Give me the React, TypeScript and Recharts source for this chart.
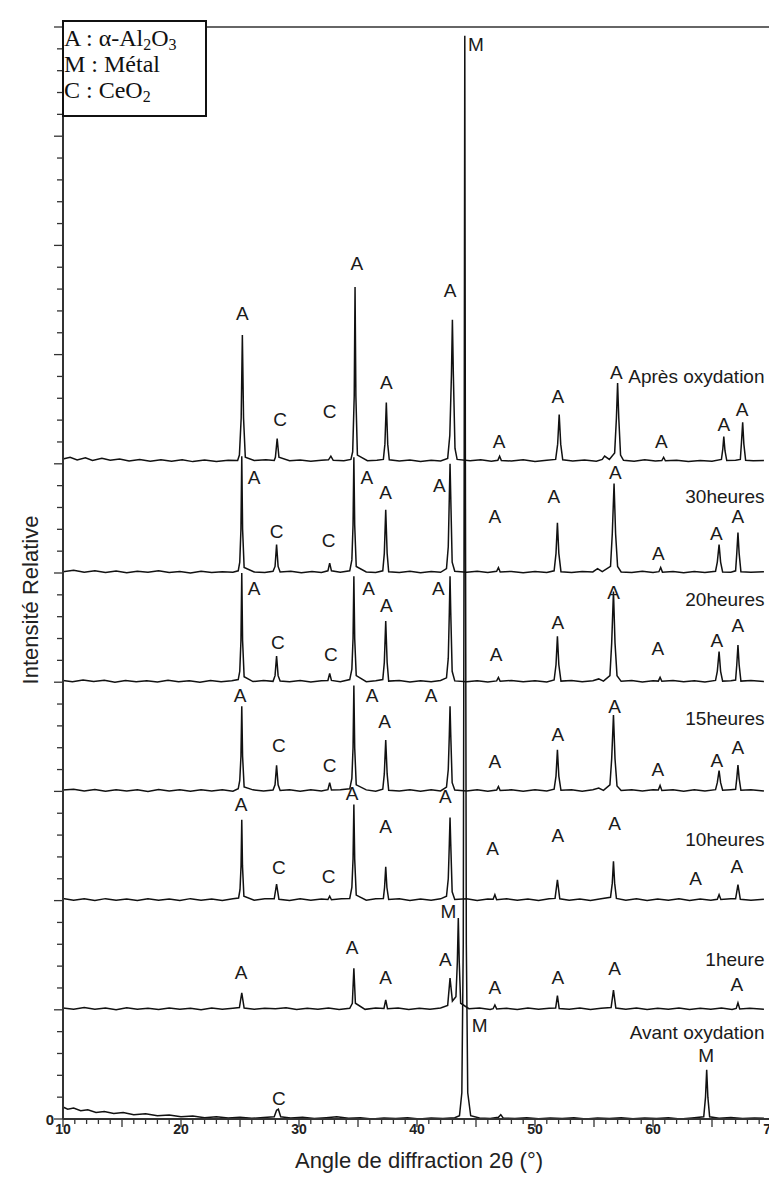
import {
  ComposedChart,
  Line,
  Scatter,
  XAxis,
  YAxis,
  ReferenceLine,
} from "recharts";

type Pt = [number, number];
type Mark = [number, number, string];

// tick labels
const xLabelTicks = [10, 20, 30, 40, 50, 60, 70];
const yLabelTicks = [0];

// trace names, stacking offsets and where each name sits (y in axis units)
const traceNames = [
  "Avant oxydation",
  "1heure",
  "10heures",
  "15heures",
  "20heures",
  "30heures",
  "Après oxydation",
];
const traceOffsets = [0, 5, 10, 15, 20, 25, 30.1];
const traceNameY = [3.94, 7.3, 12.8, 18.35, 23.8, 28.5, 34.0];

// intensities, relative to each trace's own baseline
const avant: Pt[] = [
  [10, 0.55], [10.4, 0.45], [10.9, 0.5], [11.5, 0.38], [12.1, 0.42], [12.8, 0.3],
  [13.5, 0.34], [14.3, 0.25], [15.1, 0.3], [16, 0.2], [17, 0.24], [18, 0.15],
  [19, 0.18], [20, 0.1], [21, 0.14], [22, 0.06], [23, 0.1], [24, 0.05], [25, 0.08],
  [26, 0.03], [27, 0.07], [27.9, 0.1], [28.1, 0.4], [28.25, 0.45], [28.45, 0.1],
  [29.3, 0.05], [30.3, 0.08], [31.3, 0.02], [32.3, 0.06], [33.2, 0.1], [34.2, 0.03],
  [35.2, 0.06], [36.2, 0.0], [37.2, 0.05], [38.2, 0.02], [39.2, 0.06], [40.2, 0.0],
  [41.2, 0.05], [42.2, 0.02], [43.2, 0.06], [43.6, 0.15], [43.8, 1.2], [43.92, 8],
  [44.0, 30], [44.05, 49.6], [44.1, 30], [44.18, 8], [44.3, 1.2], [44.55, 0.15],
  [45.3, 0.05], [46.2, 0.02], [46.9, 0.08], [47.1, 0.2], [47.3, 0.05], [48.3, 0.02],
  [49.3, 0.06], [50.3, 0.01], [51.3, 0.05], [52.3, 0.02], [53.3, 0.06], [54.3, 0.0],
  [55.3, 0.05], [56.3, 0.02], [57.3, 0.06], [58.3, 0.01], [59.3, 0.05], [60.3, 0.02],
  [61.3, 0.06], [62.3, 0.0], [63.3, 0.05], [64.3, 0.1], [64.45, 1.0], [64.55, 2.25],
  [64.65, 1.0], [64.8, 0.1], [65.6, 0.04], [66.6, 0.07], [67.6, 0.02], [68.6, 0.05],
  [69.4, 0.03],
];

const heure1: Pt[] = [
  [10, 0.08], [10.9, 0.02], [11.8, 0.1], [12.7, 0.03], [13.6, 0.08], [14.5, 0.0],
  [15.4, 0.09], [16.3, 0.02], [17.2, 0.07], [18.1, 0.01], [19, 0.08], [19.9, 0.02],
  [20.8, 0.07], [21.7, 0.0], [22.6, 0.08], [23.5, 0.02], [24.4, 0.07], [24.95, 0.1],
  [25.15, 0.78], [25.35, 0.08], [26.2, 0.02], [27.1, 0.07], [28, 0.05], [28.9, 0.09],
  [29.8, 0.01], [30.7, 0.07], [31.6, 0.02], [32.5, 0.08], [33.4, 0.01], [34.3, 0.07],
  [34.52, 0.3], [34.65, 1.9], [34.78, 0.3], [35.6, 0.02], [36.5, 0.08], [37.2, 0.06],
  [37.35, 0.45], [37.5, 0.05], [38.4, 0.08], [39.3, 0.01], [40.2, 0.07], [41.1, 0.02],
  [42, 0.08], [42.6, 0.2], [42.8, 1.45], [43.0, 0.4], [43.3, 0.6], [43.42, 2.2],
  [43.5, 4.2], [43.58, 2.2], [43.7, 0.3], [44.4, 0.05], [45.3, 0.08], [46.2, 0.01],
  [46.45, 0.05], [46.6, 0.22], [46.75, 0.04], [47.6, 0.07], [48.5, 0.01], [49.4, 0.08],
  [50.3, 0.02], [51.2, 0.07], [51.75, 0.08], [51.9, 0.65], [52.05, 0.06], [52.9, 0.02],
  [53.8, 0.08], [54.7, 0.01], [55.6, 0.07], [56.45, 0.1], [56.65, 0.9], [56.85, 0.08],
  [57.7, 0.02], [58.6, 0.08], [59.5, 0.01], [60.4, 0.07], [61.3, 0.02], [62.2, 0.08],
  [63.1, 0.01], [64, 0.07], [64.9, 0.02], [65.8, 0.08], [66.7, 0.01], [67.05, 0.06],
  [67.2, 0.32], [67.35, 0.04], [68.2, 0.07], [69.4, 0.02],
];

const heure10: Pt[] = [
  [10, 0.1], [10.9, 0.02], [11.8, 0.08], [12.7, 0.01], [13.6, 0.09], [14.5, 0.02],
  [15.4, 0.07], [16.3, 0.0], [17.2, 0.08], [18.1, 0.02], [19, 0.07], [19.9, 0.01],
  [20.8, 0.09], [21.7, 0.02], [22.6, 0.07], [23.5, 0.0], [24.4, 0.08], [24.88, 0.12],
  [25.0, 0.5], [25.09, 1.6], [25.15, 3.7], [25.21, 1.6], [25.33, 0.2], [26.2, 0.02],
  [27.1, 0.08], [27.9, 0.08], [28.1, 0.75], [28.3, 0.06], [29.2, 0.01], [30.1, 0.08],
  [31, 0.02], [31.9, 0.07], [32.45, 0.05], [32.6, 0.2], [32.75, 0.04], [33.6, 0.08],
  [34.3, 0.1], [34.48, 0.6], [34.58, 1.9], [34.65, 4.4], [34.72, 1.9], [34.85, 0.25],
  [35.7, 0.02], [36.5, 0.08], [37.15, 0.1], [37.25, 0.6], [37.35, 1.55], [37.45, 0.6],
  [37.6, 0.05], [38.5, 0.08], [39.4, 0.01], [40.3, 0.07], [41.2, 0.02], [42.0, 0.08],
  [42.5, 0.2], [42.65, 1.0], [42.74, 2.6], [42.8, 3.8], [42.86, 2.6], [42.98, 0.4],
  [43.2, 0.05], [44.2, 0.08], [45.1, 0.01], [46.0, 0.07], [46.45, 0.06], [46.6, 0.27],
  [46.75, 0.04], [47.6, 0.08], [48.5, 0.02], [49.4, 0.07], [50.3, 0.0], [51.2, 0.08],
  [51.7, 0.1], [51.9, 0.95], [52.1, 0.08], [52.9, 0.02], [53.8, 0.07], [54.7, 0.01],
  [55.6, 0.08], [56.4, 0.15], [56.55, 0.8], [56.65, 1.8], [56.75, 0.8], [56.9, 0.1],
  [57.7, 0.02], [58.6, 0.08], [59.5, 0.01], [60.4, 0.07], [61.3, 0.02], [62.2, 0.08],
  [63.1, 0.01], [64, 0.07], [64.9, 0.02], [65.45, 0.06], [65.6, 0.27], [65.75, 0.05],
  [66.6, 0.08], [67.0, 0.08], [67.2, 0.73], [67.4, 0.06], [68.3, 0.02], [69.4, 0.06],
];

const heure15: Pt[] = [
  [10, 0.06], [10.9, 0.1], [11.8, 0.02], [12.7, 0.09], [13.6, 0.01], [14.5, 0.08],
  [15.4, 0.02], [16.3, 0.07], [17.2, 0.0], [18.1, 0.09], [19, 0.02], [19.9, 0.08],
  [20.8, 0.01], [21.7, 0.07], [22.6, 0.02], [23.5, 0.08], [24.4, 0.01], [24.85, 0.12],
  [24.98, 0.5], [25.08, 1.6], [25.15, 3.9], [25.22, 1.6], [25.35, 0.2], [26.1, 0.07],
  [27.0, 0.02], [27.8, 0.06], [27.97, 0.3], [28.1, 1.2], [28.23, 0.3], [28.4, 0.04],
  [29.2, 0.08], [30.1, 0.01], [31.0, 0.07], [31.9, 0.02], [32.45, 0.08], [32.6, 0.4],
  [32.75, 0.06], [33.5, 0.08], [34.3, 0.12], [34.48, 0.6], [34.58, 2.0], [34.65, 4.85],
  [34.72, 2.0], [34.85, 0.3], [35.7, 0.07], [36.5, 0.01], [37.1, 0.1], [37.23, 0.8],
  [37.35, 2.35], [37.47, 0.8], [37.6, 0.05], [38.5, 0.02], [39.4, 0.08], [40.3, 0.01],
  [41.2, 0.07], [42.0, 0.02], [42.5, 0.2], [42.65, 1.0], [42.74, 2.6], [42.8, 3.9],
  [42.86, 2.6], [42.98, 0.4], [43.2, 0.06], [44.2, 0.02], [45.1, 0.08], [46.0, 0.01],
  [46.75, 0.06], [46.9, 0.22], [47.05, 0.04], [48.0, 0.07], [49.0, 0.01], [50.0, 0.08],
  [51.0, 0.02], [51.62, 0.1], [51.78, 0.7], [51.9, 1.9], [52.02, 0.7], [52.2, 0.05],
  [53.1, 0.07], [54.0, 0.01], [54.9, 0.08], [55.4, 0.15], [55.8, 0.05], [56.35, 0.3],
  [56.5, 1.5], [56.65, 3.5], [56.78, 1.5], [56.95, 0.25], [57.3, 0.04], [58.2, 0.08],
  [59.1, 0.02], [60.0, 0.07], [60.45, 0.06], [60.6, 0.27], [60.75, 0.04], [61.7, 0.07],
  [62.6, 0.01], [63.5, 0.08], [64.4, 0.02], [65.3, 0.08], [65.45, 0.4], [65.6, 0.95],
  [65.73, 0.4], [65.9, 0.05], [66.6, 0.08], [67.0, 0.1], [67.1, 0.6], [67.2, 1.2],
  [67.3, 0.6], [67.45, 0.05], [68.3, 0.07], [69.4, 0.02],
];

const heure20: Pt[] = [
  [10, 0.08], [10.8, 0.02], [11.7, 0.1], [12.6, 0.03], [13.5, 0.09], [14.4, 0.0],
  [15.3, 0.08], [16.2, 0.02], [17.1, 0.07], [18, 0.01], [18.9, 0.09], [19.8, 0.02],
  [20.7, 0.07], [21.6, 0.0], [22.5, 0.08], [23.4, 0.02], [24.3, 0.07], [24.85, 0.12],
  [24.98, 0.5], [25.08, 1.9], [25.15, 5.0], [25.22, 1.9], [25.35, 0.25], [26.1, 0.03],
  [27, 0.08], [27.8, 0.04], [27.97, 0.3], [28.1, 1.2], [28.23, 0.3], [28.4, 0.05],
  [29.2, 0.02], [30.1, 0.08], [31, 0.01], [31.9, 0.07], [32.45, 0.08], [32.6, 0.4],
  [32.75, 0.08], [33.5, 0.02], [34.3, 0.12], [34.48, 0.6], [34.58, 2.0], [34.65, 4.85],
  [34.72, 2.0], [34.85, 0.3], [35.7, 0.02], [36.5, 0.07], [37.1, 0.12], [37.23, 0.9],
  [37.35, 2.8], [37.47, 0.9], [37.6, 0.05], [38.5, 0.08], [39.4, 0.01], [40.3, 0.07],
  [41.2, 0.02], [42, 0.08], [42.5, 0.2], [42.65, 1.1], [42.74, 3.2], [42.8, 4.85],
  [42.86, 3.2], [42.98, 0.5], [43.2, 0.06], [44.2, 0.02], [45.1, 0.07], [46, 0.01],
  [46.75, 0.06], [46.9, 0.22], [47.05, 0.04], [48, 0.08], [49, 0.02], [50, 0.07],
  [51, 0.01], [51.62, 0.1], [51.78, 0.8], [51.9, 2.1], [52.02, 0.8], [52.2, 0.05],
  [53.1, 0.08], [54, 0.02], [54.9, 0.07], [55.4, 0.15], [55.8, 0.05], [56.35, 0.3],
  [56.5, 1.8], [56.65, 4.15], [56.78, 1.8], [56.95, 0.3], [57.3, 0.04], [58.2, 0.08],
  [59.1, 0.01], [60, 0.07], [60.45, 0.05], [60.6, 0.22], [60.75, 0.04], [61.7, 0.08],
  [62.6, 0.02], [63.5, 0.07], [64.4, 0.01], [65.3, 0.08], [65.45, 0.5], [65.6, 1.4],
  [65.73, 0.5], [65.9, 0.05], [66.6, 0.07], [67, 0.1], [67.1, 0.8], [67.2, 1.7],
  [67.3, 0.8], [67.45, 0.05], [68.3, 0.08], [69.4, 0.03],
];

const heure30: Pt[] = [
  [10, 0.06], [10.9, 0.12], [11.8, 0.03], [12.7, 0.1], [13.6, 0.02], [14.5, 0.09],
  [15.4, 0.01], [16.3, 0.08], [17.2, 0.03], [18.1, 0.1], [19, 0.02], [19.9, 0.07],
  [20.8, 0.0], [21.7, 0.08], [22.6, 0.02], [23.5, 0.06], [24.4, 0.03], [24.85, 0.1],
  [24.98, 0.5], [25.08, 2.0], [25.15, 5.35], [25.22, 2.0], [25.35, 0.25], [26.2, 0.05],
  [27.1, 0.02], [27.8, 0.08], [27.97, 0.3], [28.1, 1.3], [28.23, 0.3], [28.4, 0.05],
  [29.3, 0.08], [30.2, 0.01], [31.1, 0.07], [31.9, 0.02], [32.45, 0.1], [32.6, 0.45],
  [32.75, 0.1], [33.5, 0.03], [34.3, 0.1], [34.48, 0.6], [34.58, 2.2], [34.65, 5.3],
  [34.72, 2.2], [34.85, 0.3], [35.7, 0.05], [36.5, 0.02], [37.1, 0.1], [37.23, 0.9],
  [37.35, 2.9], [37.47, 0.9], [37.6, 0.06], [38.5, 0.02], [39.4, 0.08], [40.3, 0.01],
  [41.2, 0.07], [42.0, 0.03], [42.5, 0.2], [42.65, 1.2], [42.74, 3.5], [42.8, 5.0],
  [42.86, 3.5], [42.98, 0.5], [43.2, 0.08], [44.2, 0.03], [45.1, 0.08], [46.0, 0.02],
  [46.75, 0.08], [46.9, 0.25], [47.05, 0.05], [48, 0.07], [49, 0.01], [50, 0.07],
  [51, 0.02], [51.62, 0.1], [51.78, 0.9], [51.9, 2.3], [52.02, 0.9], [52.2, 0.06],
  [53.1, 0.02], [54, 0.07], [54.9, 0.05], [55.3, 0.2], [55.7, 0.06], [56.4, 0.3],
  [56.55, 1.8], [56.7, 4.1], [56.83, 1.8], [57.0, 0.3], [57.3, 0.05], [58.2, 0.02],
  [59.1, 0.08], [60.0, 0.02], [60.5, 0.06], [60.65, 0.25], [60.8, 0.04], [61.7, 0.07],
  [62.6, 0.01], [63.5, 0.07], [64.4, 0.02], [65.3, 0.08], [65.45, 0.5], [65.6, 1.3],
  [65.73, 0.5], [65.9, 0.05], [66.6, 0.04], [67.0, 0.1], [67.1, 0.9], [67.2, 1.85],
  [67.3, 0.9], [67.45, 0.06], [68.3, 0.03], [69.4, 0.06],
];

const apres: Pt[] = [
  [10, 0.12], [10.6, 0.2], [11.2, 0.08], [11.9, 0.18], [12.5, 0.05], [13.3, 0.15],
  [14, 0.06], [14.8, 0.12], [15.6, 0.03], [16.5, 0.1], [17.4, 0.02], [18.3, 0.09],
  [19.2, 0.02], [20.1, 0.08], [21, 0.0], [22, 0.07], [23, 0.01], [24, 0.06],
  [24.8, 0.05], [24.95, 0.3], [25.1, 2.0], [25.2, 5.8], [25.3, 2.0], [25.45, 0.2],
  [26.2, 0.05], [27.2, 0.08], [27.9, 0.05], [28.0, 0.2], [28.15, 1.05], [28.3, 0.2],
  [29.2, 0.04], [30.1, 0.07], [31, 0.02], [31.9, 0.06], [32.5, 0.08], [32.7, 0.25],
  [32.9, 0.06], [33.8, 0.04], [34.4, 0.1], [34.55, 0.45], [34.68, 3], [34.75, 8.0],
  [34.82, 3], [34.95, 0.3], [35.8, 0.04], [36.6, 0.06], [37.15, 0.1], [37.28, 0.8],
  [37.4, 2.7], [37.52, 0.8], [37.65, 0.08], [38.5, 0.03], [39.4, 0.07], [40.3, 0.0],
  [41.2, 0.06], [42, 0.03], [42.6, 0.15], [42.78, 1.2], [42.92, 4], [43.0, 6.5],
  [43.08, 4], [43.22, 0.6], [43.4, 0.1], [44.5, 0.04], [45.4, 0.08], [46.3, 0.02],
  [46.85, 0.06], [47.0, 0.25], [47.15, 0.05], [48, 0.03], [49, 0.08], [50, 0.0],
  [51, 0.06], [51.75, 0.1], [51.92, 0.8], [52.05, 2.15], [52.18, 0.8], [52.35, 0.08],
  [53.2, 0.03], [54.2, 0.07], [55.2, 0.02], [55.7, 0.1], [55.9, 0.25], [56.3, 0.1],
  [56.75, 0.4], [56.9, 2.0], [57.0, 3.6], [57.1, 2.0], [57.25, 0.3], [57.5, 0.06],
  [58.4, 0.02], [59.3, 0.08], [60.2, 0.03], [60.75, 0.05], [60.9, 0.2], [61.05, 0.04],
  [62, 0.06], [63, 0.0], [64, 0.05], [65, 0.02], [65.8, 0.1], [65.92, 0.6],
  [66.0, 1.15], [66.1, 0.5], [66.25, 0.05], [67, 0.06], [67.4, 0.1], [67.5, 0.9],
  [67.6, 1.8], [67.7, 0.8], [67.85, 0.06], [68.5, 0.04], [69.4, 0.05],
];

const traceIntensities = [avant, heure1, heure10, heure15, heure20, heure30, apres];

// phase marks: [angle, height in axis units, letter]
const marksAvant: Mark[] = [
  [28.3, 0.96, "C"], [45.3, 4.3, "M"], [45.0, 49.2, "M"], [64.5, 2.93, "M"],
];
const marks1h: Mark[] = [
  [25.1, 6.73, "A"], [34.5, 7.83, "A"], [37.34, 6.46, "A"], [42.4, 7.3, "A"],
  [42.66, 9.48, "M"], [46.6, 6.04, "A"], [51.94, 6.5, "A"], [56.75, 6.91, "A"],
  [67.1, 6.14, "A"],
];
const marks10h: Mark[] = [
  [25.1, 14.4, "A"], [28.3, 11.5, "C"], [32.5, 11.1, "C"], [34.5, 14.9, "A"],
  [37.34, 13.4, "A"], [42.4, 14.75, "A"], [46.4, 12.4, "A"], [51.94, 12.96, "A"],
  [56.75, 13.55, "A"], [63.6, 11.03, "A"], [67.1, 11.58, "A"],
];
const marks15h: Mark[] = [
  [25.0, 19.4, "A"], [28.3, 17.1, "C"], [32.6, 16.2, "C"], [36.2, 19.4, "A"],
  [37.26, 18.2, "A"], [41.2, 19.4, "A"], [46.6, 16.35, "A"], [51.94, 17.6, "A"],
  [56.75, 18.9, "A"], [60.4, 16.0, "A"], [65.4, 16.4, "A"], [67.2, 17.0, "A"],
];
const marks20h: Mark[] = [
  [26.2, 24.3, "A"], [28.2, 21.8, "C"], [32.7, 21.25, "C"], [35.9, 24.3, "A"],
  [37.4, 23.5, "A"], [41.8, 24.3, "A"], [46.7, 21.25, "A"], [51.94, 22.75, "A"],
  [56.67, 24.1, "A"], [60.4, 21.55, "A"], [65.4, 21.9, "A"], [67.2, 22.6, "A"],
];
const marks30h: Mark[] = [
  [26.2, 29.35, "A"], [28.1, 26.9, "C"], [32.5, 26.5, "C"], [35.74, 29.35, "A"],
  [37.34, 28.7, "A"], [41.9, 29.0, "A"], [46.6, 27.6, "A"], [51.6, 28.5, "A"],
  [56.8, 29.6, "A"], [60.46, 25.9, "A"], [65.36, 26.8, "A"], [67.2, 27.6, "A"],
];
const marksApres: Mark[] = [
  [25.19, 36.9, "A"], [28.4, 32.05, "C"], [32.6, 32.4, "C"], [34.9, 39.15, "A"],
  [37.4, 33.7, "A"], [42.8, 37.95, "A"], [46.96, 31.04, "A"], [51.94, 33.1, "A"],
  [56.9, 34.2, "A"], [60.7, 31.0, "A"], [66.0, 31.8, "A"], [67.55, 32.5, "A"],
];

const allMarks = [
  ...marksAvant, ...marks1h, ...marks10h, ...marks15h, ...marks20h, ...marks30h, ...marksApres,
];

const SANS = '"Liberation Sans", Arial, sans-serif';
const SERIF = '"Liberation Serif", "Times New Roman", serif';

const traceData = traceIntensities.map((pts, i) =>
  pts.map(([x, v]) => ({ x, y: v + traceOffsets[i] }))
);
const markData = allMarks.map(([x, y, t]) => ({ x, y, t }));
const nameData = traceNames.map((t, i) => ({ x: 69.45, y: traceNameY[i], t }));

const xMinorTicks = Array.from({ length: 61 }, (_, i) => 10 + i);
const yMinorTicks = Array.from({ length: 51 }, (_, i) => i);

function XTick(props: any) {
  const { x, y, payload } = props;
  const v = payload.value as number;
  const len = v % 5 === 0 ? 8 : 5;
  return (
    <g>
      <line x1={x} x2={x} y1={y} y2={y + len} stroke="#333" strokeWidth={1.3} />
      {xLabelTicks.includes(v) && (
        <text
          x={x}
          y={y + 10}
          textAnchor="middle"
          dominantBaseline="central"
          fontFamily={SANS}
          fontWeight="bold"
          fontSize={14}
          fill="#222"
        >
          {v}
        </text>
      )}
    </g>
  );
}

function YTick(props: any) {
  const { x, y, payload } = props;
  const v = payload.value as number;
  const len = v % 5 === 0 ? 9 : 6;
  return (
    <g>
      <line x1={x - len} x2={x} y1={y} y2={y} stroke="#333" strokeWidth={1.3} />
      {yLabelTicks.includes(v) && (
        <text
          x={x - 13}
          y={y}
          textAnchor="middle"
          dominantBaseline="central"
          fontFamily={SANS}
          fontWeight="bold"
          fontSize={15}
          fill="#222"
        >
          {v}
        </text>
      )}
    </g>
  );
}

function MarkText(props: any) {
  const t = props.payload?.t ?? props.t;
  return (
    <text
      x={props.cx}
      y={props.cy}
      textAnchor="middle"
      dominantBaseline="central"
      fontFamily={SANS}
      fontSize={19}
      fill="#1a1a1a"
    >
      {t}
    </text>
  );
}

function NameText(props: any) {
  const t = props.payload?.t ?? props.t;
  return (
    <text
      x={props.cx}
      y={props.cy}
      textAnchor="end"
      dominantBaseline="central"
      fontFamily={SANS}
      fontSize={19}
      fill="#1a1a1a"
    >
      {t}
    </text>
  );
}

function YTitle(props: any) {
  const vb = props.viewBox;
  const cx = vb.x + 22;
  const cy = vb.y + vb.height / 2 + 27;
  return (
    <text
      x={cx}
      y={cy}
      transform={`rotate(-90, ${cx}, ${cy})`}
      textAnchor="middle"
      dominantBaseline="central"
      fontFamily={SANS}
      fontSize={22}
      fill="#222"
    >
      Intensité Relative
    </text>
  );
}

function XTitle(props: any) {
  const vb = props.viewBox;
  const cx = vb.x + vb.width / 2 + 2;
  const cy = vb.y + 41;
  return (
    <text
      x={cx}
      y={cy}
      textAnchor="middle"
      dominantBaseline="central"
      fontFamily={SANS}
      fontSize={22}
      fill="#222"
    >
      Angle de diffraction 2θ (°)
    </text>
  );
}

function XrdChart() {
  return (
    <div style={{ position: "relative", width: 769, height: 1166 }}>
      <ComposedChart
        width={769}
        height={1166}
        margin={{ top: 19, right: 6, bottom: 0, left: 0 }}
      >
        <XAxis
          type="number"
          dataKey="x"
          domain={[10, 70]}
          ticks={xMinorTicks}
          interval={0}
          height={55}
          tickSize={0}
          tickMargin={0}
          tickLine={false}
          tick={<XTick />}
          axisLine={{ stroke: "#333", strokeWidth: 2 }}
          label={<XTitle />}
        />
        <YAxis
          type="number"
          domain={[0, 50]}
          ticks={yMinorTicks}
          interval={0}
          width={55}
          tickSize={0}
          tickMargin={0}
          tickLine={false}
          tick={<YTick />}
          axisLine={{ stroke: "#333", strokeWidth: 2 }}
          label={<YTitle />}
        />
        <ReferenceLine y={50} stroke="#333" strokeWidth={1.5} />
        <ReferenceLine x={70} stroke="#333" strokeWidth={1.5} />
        {traceData.map((d, i) => (
          <Line
            key={traceNames[i]}
            data={d}
            dataKey="y"
            type="linear"
            stroke="#111"
            strokeWidth={1.5}
            dot={false}
            isAnimationActive={false}
          />
        ))}
        <Scatter data={markData} dataKey="y" shape={<MarkText />} isAnimationActive={false} />
        <Scatter data={nameData} dataKey="y" shape={<NameText />} isAnimationActive={false} />
      </ComposedChart>
      <div
        style={{
          position: "absolute",
          left: 54,
          top: 12,
          width: 141,
          height: 90,
          paddingTop: 3,
          border: "2px solid #111",
          background: "#fff",
          fontFamily: SERIF,
          fontSize: 24,
          lineHeight: "26px",
          color: "#111",
          whiteSpace: "nowrap",
        }}
      >
        <div>
          A : α-Al<span style={{ fontSize: 16, verticalAlign: "-4px", lineHeight: 0 }}>2</span>O
          <span style={{ fontSize: 16, verticalAlign: "-4px", lineHeight: 0 }}>3</span>
        </div>
        <div>M : Métal</div>
        <div>
          C : CeO<span style={{ fontSize: 16, verticalAlign: "-4px", lineHeight: 0 }}>2</span>
        </div>
      </div>
    </div>
  );
}

export default function App() {
  return <XrdChart />;
}
